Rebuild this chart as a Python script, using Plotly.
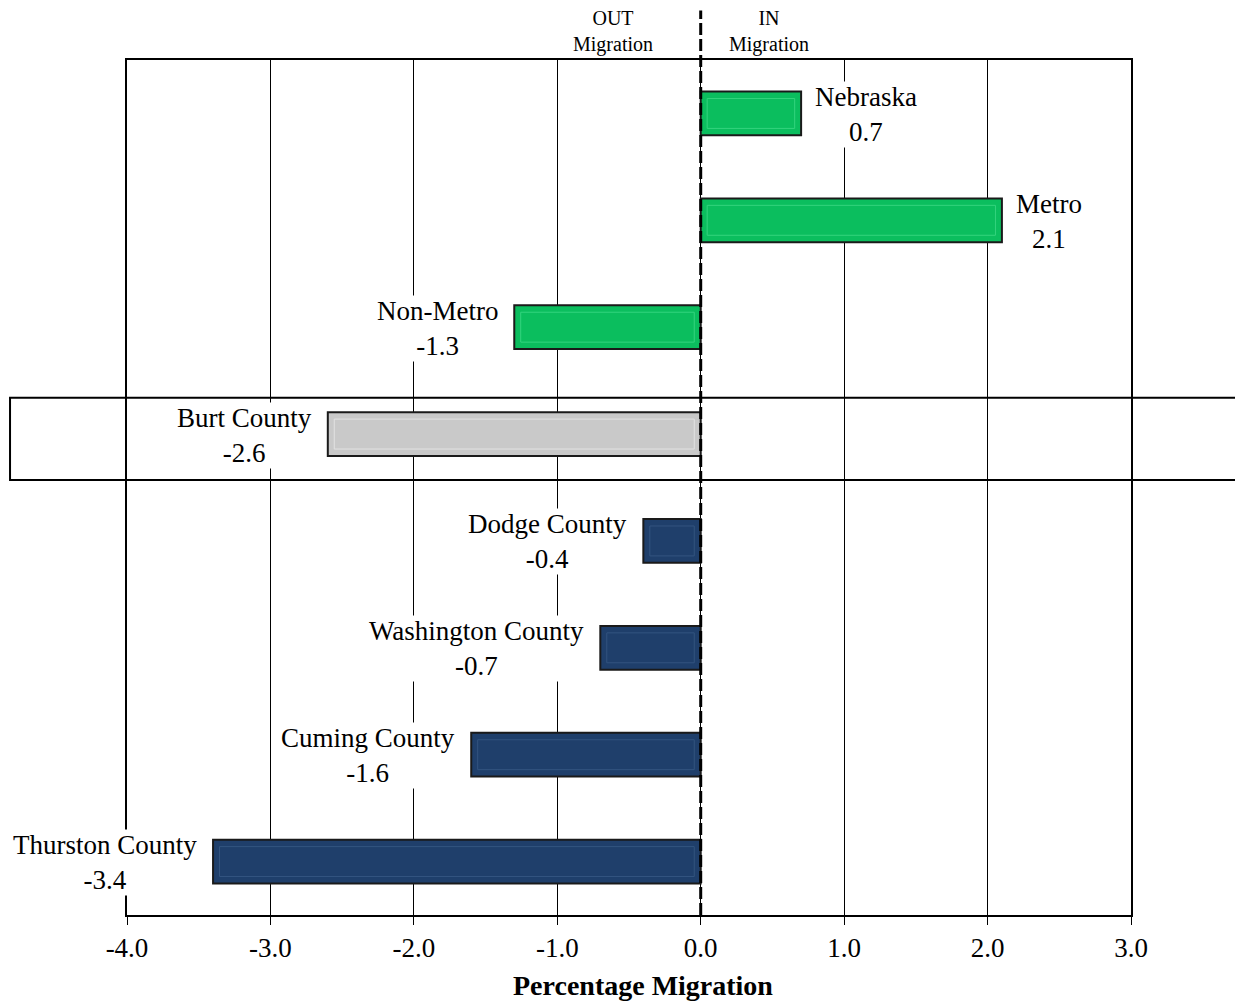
import plotly.graph_objects as go

categories = ["Nebraska", "Metro", "Non-Metro", "Burt County", "Dodge County",
              "Washington County", "Cuming County", "Thurston County"]
values = [0.7, 2.1, -1.3, -2.6, -0.4, -0.7, -1.6, -3.4]
groups = ["state", "state", "state", "focus", "county", "county", "county", "county"]
tick_vals = [-4, -3, -2, -1, 0, 1, 2, 3]
highlight = "Burt County"

group_colors = {"state": "#0BBE5E", "focus": "#C9C9C9", "county": "#1F3F6B"}
group_bevel = {"state": "#34D47E", "focus": "#E2E2E2", "county": "#33547F"}
bar_colors = [group_colors[g] for g in groups]
bevel_colors = [group_bevel[g] for g in groups]

FONT = "Liberation Serif, Times New Roman, serif"

fig = go.Figure()
fig.add_trace(go.Bar(
    x=values, y=categories, orientation="h", width=0.41,
    marker=dict(color=bar_colors, line=dict(color="#1a1a1a", width=2)),
    hoverinfo="skip", showlegend=False,
))
# inner bevel highlight (inset from the outer bar)
inset = 0.045
sign = [1 if v >= 0 else -1 for v in values]
fig.add_trace(go.Bar(
    x=[v - 2 * s * inset for v, s in zip(values, sign)],
    base=[s * inset for s in sign],
    y=categories, orientation="h", width=0.28,
    marker=dict(color=bar_colors, line=dict(color=bevel_colors, width=1)),
    hoverinfo="skip", showlegend=False,
))

for cat, val in zip(categories, values):
    pos = val >= 0
    fig.add_annotation(
        x=val, y=cat, xref="x", yref="y",
        text=f"{cat}<br>{val:.1f}", showarrow=False,
        xanchor="left" if pos else "right", yanchor="middle",
        xshift=13 if pos else -15, align="center", yshift=-1,
        font=dict(family=FONT, size=27, color="black"),
        bgcolor="white", borderpad=0,
    )

fig.add_annotation(x=0, y=1.033, xref="x", yref="paper", text="OUT<br>Migration",
                   showarrow=False, xanchor="center", yanchor="middle", xshift=-88,
                   font=dict(family=FONT, size=20, color="black"), align="center")
fig.add_annotation(x=0, y=1.033, xref="x", yref="paper", text="IN<br>Migration",
                   showarrow=False, xanchor="center", yanchor="middle", xshift=68,
                   font=dict(family=FONT, size=20, color="black"), align="center")

# axis title (offset like the original)
fig.add_annotation(x=0.5, y=0, xref="paper", yref="paper", text="<b>Percentage Migration</b>",
                   showarrow=False, xanchor="center", yanchor="top", xshift=14, yshift=-53,
                   font=dict(family=FONT, size=28, color="black"))

# zero reference dashed line
fig.add_shape(type="line", xref="x", yref="paper", x0=0, x1=0, y0=0, y1=1.058,
              line=dict(color="black", width=3, dash="12px,4px"), layer="above")

# highlight box around focus county
hi = categories.index(highlight)
fig.add_shape(type="rect", xref="paper", yref="y", x0=-0.1165, x1=1.2,
              y0=hi - 0.34, y1=hi + 0.43,
              line=dict(color="black", width=2), fillcolor="rgba(0,0,0,0)", layer="above")

fig.update_layout(
    width=1235, height=995,
    margin=dict(l=119, r=112, t=52, b=88),
    paper_bgcolor="white", plot_bgcolor="white",
    barmode="overlay",
    font=dict(family=FONT, color="black"),
    xaxis=dict(
        range=[-4, 3], tickvals=tick_vals, ticktext=[f"{v:.1f}" for v in tick_vals],
        tickfont=dict(family=FONT, size=27, color="black"),
        showgrid=True, gridcolor="black", gridwidth=1, zeroline=False,
        showline=True, linecolor="black", linewidth=2, mirror=True,
        ticks="outside", ticklen=8, tickcolor="black", tickwidth=1,
    ),
    yaxis=dict(
        type="category", categoryorder="array", categoryarray=categories,
        range=[7.5, -0.5], showticklabels=False, showgrid=False, zeroline=False,
        showline=True, linecolor="black", linewidth=2, mirror=True, ticks="",
    ),
)

fig.write_html("out.html")
